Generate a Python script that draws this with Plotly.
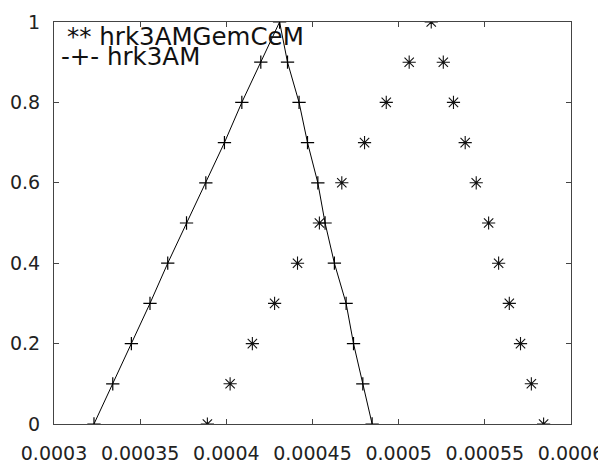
import plotly.graph_objects as go

# ---- data ----
y_levels = [0, 0.1, 0.2, 0.3, 0.4, 0.5, 0.6, 0.7, 0.8, 0.9, 1.0,
            0.9, 0.8, 0.7, 0.6, 0.5, 0.4, 0.3, 0.2, 0.1, 0]

x_hrk3AM = [0.0003232, 0.0003341, 0.0003449, 0.0003557, 0.0003660, 0.0003769,
            0.0003881, 0.0003989, 0.0004090, 0.0004200, 0.0004309,
            0.0004355, 0.0004422, 0.0004471, 0.0004531, 0.0004573,
            0.0004627, 0.0004695, 0.0004738, 0.0004792, 0.0004846]

x_hrk3AMGemCeM = [0.0003890, 0.0004022, 0.0004151, 0.0004280, 0.0004413, 0.0004540,
                  0.0004670, 0.0004802, 0.0004928, 0.0005061, 0.0005189,
                  0.0005259, 0.0005318, 0.0005386, 0.0005450, 0.0005522,
                  0.0005580, 0.0005642, 0.0005707, 0.0005770, 0.0005841]

x_tick_vals = [0.0003, 0.00035, 0.0004, 0.00045, 0.0005, 0.00055, 0.0006]
x_tick_text = ["0.0003", "0.00035", "0.0004", "0.00045", "0.0005", "0.00055", "0.0006"]
y_tick_vals = [0, 0.2, 0.4, 0.6, 0.8, 1.0]
y_tick_text = ["0", "0.2", "0.4", "0.6", "0.8", "1"]

legend_labels = ["** hrk3AMGemCeM", "-+- hrk3AM"]

FONT = "DejaVu Sans"

fig = go.Figure()

fig.add_trace(go.Scatter(
    x=x_hrk3AMGemCeM, y=y_levels, mode="markers", name="hrk3AMGemCeM",
    marker=dict(symbol="asterisk", size=11, color="#111",
                line=dict(color="#111", width=1.1)),
))

fig.add_trace(go.Scatter(
    x=x_hrk3AM, y=y_levels, mode="lines+markers", name="hrk3AM",
    line=dict(color="black", width=1),
    marker=dict(symbol="cross-thin", size=9.5, color="black",
                line=dict(color="black", width=1.2)),
))

axis_common = dict(
    showgrid=False, zeroline=False, showline=True, linecolor="#444", linewidth=1,
    mirror="ticks", ticks="inside", ticklen=5, tickcolor="#444", tickwidth=1,
    tickfont=dict(family=FONT, size=19, color="#222"), automargin=False,
)

fig.update_xaxes(range=[0.0003, 0.0006], tickmode="array",
                 tickvals=x_tick_vals, ticktext=x_tick_text,
                 ticklabelstandoff=12, **axis_common)
fig.update_yaxes(range=[0, 1], tickmode="array",
                 tickvals=y_tick_vals, ticktext=y_tick_text,
                 ticklabelstandoff=9, **axis_common)

fig.add_annotation(xref="paper", yref="paper", x=0.022, y=0.964,
                   xanchor="left", yanchor="middle", showarrow=False,
                   text=legend_labels[0],
                   font=dict(family=FONT, size=24.5, color="#111"))
fig.add_annotation(xref="paper", yref="paper", x=0.010, y=0.914,
                   xanchor="left", yanchor="middle", showarrow=False,
                   text=legend_labels[1],
                   font=dict(family=FONT, size=24.5, color="#111"))

# the page body adds an 8px offset at top-left, so shrink the figure by 8px
# and take those 8px out of the left and top margins only
fig.update_layout(
    width=598, height=453,
    margin=dict(l=46, r=35, t=14, b=37),
    plot_bgcolor="white", paper_bgcolor="white",
    showlegend=False,
)

fig.write_html("out.html")
